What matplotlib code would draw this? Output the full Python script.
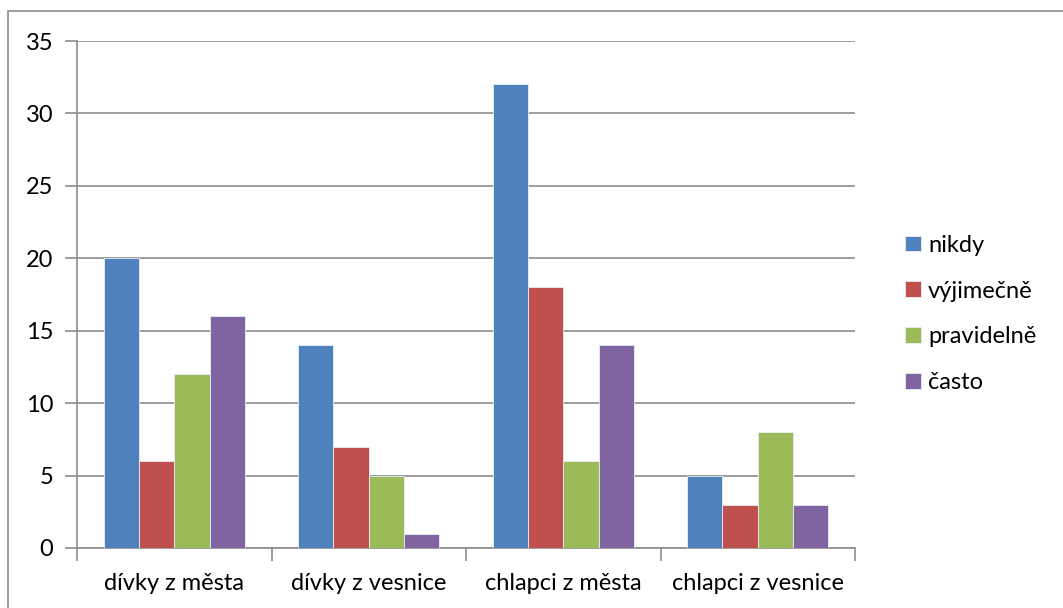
import matplotlib.pyplot as plt
from matplotlib.patches import Rectangle
import numpy as np

plt.rcParams['font.family'] = ['Lato', 'DejaVu Sans']

categories = ["dívky z města", "dívky z vesnice", "chlapci z města", "chlapci z vesnice"]
series_names = ["nikdy", "výjimečně", "pravidelně", "často"]
nikdy = [20, 14, 32, 5]
vyjimecne = [6, 7, 18, 3]
pravidelne = [12, 5, 6, 8]
casto = [16, 1, 14, 3]
series_values = [nikdy, vyjimecne, pravidelne, casto]
colors = ["#4F81BD", "#C0504D", "#9BBB59", "#8064A2"]
yticks = [0, 5, 10, 15, 20, 25, 30, 35]

W, H = 1063, 608
fig = plt.figure(figsize=(W / 100, H / 100), dpi=100)
ax = fig.add_axes([77 / W, (H - 548) / H, (855 - 77) / W, (548 - 41) / H])

# frame round the whole chart (runs off the right and bottom edge)
fig.patches.append(Rectangle((8 / W, -0.1), 1.2, 1.1 + (H - 11) / H - 1.0, transform=fig.transFigure,
                             fill=False, edgecolor="#8c8c8c", linewidth=1.2))

n = len(series_names)
bw = 1.0 / (n + 1.5)
x = np.arange(len(categories))
for i, (name, vals) in enumerate(zip(series_names, series_values)):
    offs = (i - (n - 1) / 2) * bw
    ax.bar(x + offs, vals, width=bw, color=colors[i], edgecolor="#e8eef6",
           linewidth=0.6, label=name, zorder=3)

ax.set_xlim(-0.5, len(categories) - 0.5)
ax.set_ylim(0, 35)
ax.set_yticks(yticks)
ax.set_yticklabels([str(v) for v in yticks], fontsize=17)
ax.yaxis.grid(True, color="#8c8c8c", linewidth=1.2, zorder=0)
ax.set_axisbelow(True)

ax.set_xticks(x)
ax.set_xticklabels(categories, fontsize=17)
ax.set_xticks(np.arange(len(categories) + 1) - 0.5, minor=True)
ax.tick_params(axis="x", which="major", length=0, pad=18)
ax.tick_params(axis="x", which="minor", length=9, width=1.2, color="#8c8c8c")
ax.tick_params(axis="y", length=9, width=1.2, color="#8c8c8c", pad=8)

for s in ["top", "right"]:
    ax.spines[s].set_visible(False)
for s in ["left", "bottom"]:
    ax.spines[s].set_color("#8c8c8c")
    ax.spines[s].set_linewidth(1.2)

fig.legend(loc="center left", bbox_to_anchor=(896 / W, (H - 314) / H), frameon=False,
           fontsize=17, handlelength=0.65, handleheight=0.65, handletextpad=0.3,
           labelspacing=1.05, borderaxespad=0)

fig.savefig("out.png", dpi=100)
